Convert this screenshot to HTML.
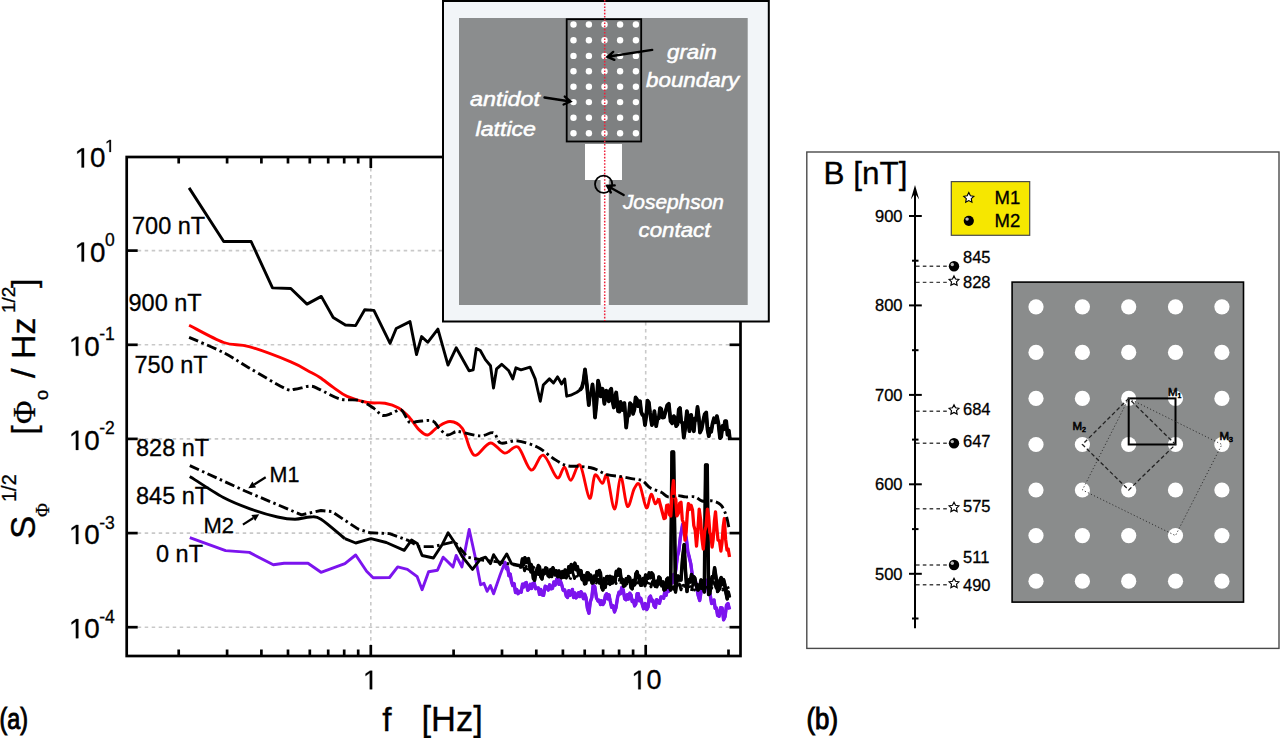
<!DOCTYPE html><html><head><meta charset="utf-8"><style>html,body{margin:0;padding:0;background:#fff;}svg{display:block;}text{font-family:"Liberation Sans",sans-serif;}.sk text{stroke:#000;stroke-width:0.3;}.sk .w text{stroke:#fff;stroke-width:0.5;}.sk .bm text{stroke-width:0.6;}.sk text.bd{stroke-width:1.0;}</style></head><body>
<svg width="1280" height="738" viewBox="0 0 1280 738" class="sk">
<rect width="1280" height="738" fill="#fff"/>
<g stroke="#c9c9c9" stroke-width="1.6" stroke-dasharray="3.5 3.5"><line x1="137.7" y1="627.2" x2="729.5" y2="627.2"/><line x1="137.7" y1="533.1" x2="729.5" y2="533.1"/><line x1="137.7" y1="438.9" x2="729.5" y2="438.9"/><line x1="137.7" y1="344.8" x2="729.5" y2="344.8"/><line x1="137.7" y1="250.6" x2="729.5" y2="250.6"/><line x1="370.8" y1="168.0" x2="370.8" y2="645.0"/><line x1="645.7" y1="168.0" x2="645.7" y2="645.0"/></g>
<path d="M189.8 537.6 L225.6 550.6 L249.4 552.4 L273.3 564.7 L284.1 563.2 L308.0 563.2 L321.0 572.3 L344.9 563.6 L355.7 555.0 L366.6 571.2 L373.1 577.7 L389.5 577.5 L397.7 566.9 L407.4 569.4 L417.2 576.7 L422.1 589.7 L428.6 571.8 L437.5 570.2 L443.2 557.2 L453.0 566.9 L456.2 555.5 L461.9 566.9 L469.2 529.5 L474.9 555.5 L480.6 584.8 L483.9 583.2 L487.1 591.3 L490.4 585.6 L493.6 593.8 L500.1 575.1 L505.0 562.1 L506.3 568.7 L507.6 567.4 L508.9 575.7 L510.2 574.0 L511.5 581.6 L512.8 585.6 L514.1 583.6 L515.5 592.6 L516.8 589.5 L518.1 593.7 L520.0 591.2 L521.2 592.2 L522.5 584.2 L523.7 587.0 L524.9 583.3 L526.3 582.6 L527.7 590.3 L529.1 588.8 L530.3 584.3 L531.6 588.5 L532.8 583.3 L534.2 583.0 L535.7 588.7 L537.1 588.2 L538.3 588.0 L539.5 594.4 L540.8 589.4 L542.0 594.9 L543.6 595.3 L545.2 586.2 L546.8 587.0 L548.2 590.1 L549.7 584.8 L551.1 588.8 L552.5 588.3 L553.9 581.9 L555.2 585.1 L556.6 579.6 L557.8 577.3 L559.0 584.4 L560.3 581.0 L561.5 583.9 L563.1 590.2 L564.7 589.9 L566.3 596.1 L567.5 597.4 L568.8 590.7 L570.0 595.4 L571.2 592.4 L572.4 589.4 L573.6 597.6 L574.9 592.9 L576.1 597.9 L577.3 596.1 L578.5 592.7 L579.8 596.6 L581.0 591.7 L582.2 593.7 L583.4 598.7 L584.7 594.2 L585.9 597.3 L587.4 608.3 L588.9 613.2 L590.3 601.9 L591.8 597.5 L593.2 585.1 L594.8 586.7 L596.4 597.8 L598.0 601.0 L599.2 600.3 L600.5 604.6 L601.7 600.8 L602.9 604.6 L604.1 602.6 L605.4 595.5 L606.6 593.7 L607.8 598.9 L609.0 594.8 L610.2 601.0 L611.6 607.3 L613.1 605.8 L614.5 612.0 L616.0 607.8 L617.6 597.3 L619.0 592.2 L620.4 593.8 L621.8 587.6 L623.2 589.7 L624.7 598.8 L626.1 599.8 L627.3 594.7 L628.5 599.1 L629.8 593.2 L631.0 594.9 L632.2 601.6 L633.4 600.3 L634.6 605.9 L635.8 604.1 L637.1 593.8 L638.3 593.7 L639.5 600.9 L640.8 598.3 L642.0 603.4 L643.6 608.7 L645.2 603.6 L646.8 609.5 L648.0 607.2 L649.3 597.5 L650.5 596.1 L651.7 601.1 L652.9 600.2 L654.1 605.9 L655.4 607.5 L656.7 599.6 L658.0 601.0 L659.5 603.3 L661.0 596.9 L662.5 597.5 L663.7 598.2 L665.0 590.4 L666.2 595.3 L667.4 587.9 L668.7 591.4 L669.9 587.1 L671.1 579.6 L672.3 582.9 L673.5 574.7 L674.7 576.3 L675.9 569.2 L677.4 556.4 L678.8 551.0 L680.3 537.9 L682.6 524.5 L684.8 532.0 L686.3 538.3 L687.8 551.5 L689.3 557.3 L690.8 563.8 L692.3 575.1 L693.8 580.9 L695.2 580.0 L696.7 587.1 L698.2 595.6 L699.7 600.5 L701.2 591.1 L702.7 590.2 L704.2 582.6 L705.7 579.9 L707.2 584.1 L708.7 594.1 L710.1 594.2 L711.6 603.5 L714.0 600.0 L715.2 608.4 L716.4 608.1 L717.6 615.4 L719.1 616.3 L720.6 607.8 L722.1 607.9 L723.6 619.9 L725.1 616.6 L726.5 605.1 L728.0 603.5 L729.5 609.4" fill="none" stroke="#7c14ee" stroke-width="2.9" stroke-linejoin="round"/>
<path d="M505.0 562.1 L506.3 568.7 L507.6 567.4 L508.9 575.7 L510.2 574.0 L511.5 581.6 L512.8 585.6 L514.1 583.6 L515.5 592.6 L516.8 589.5 L518.1 593.7 L520.0 591.2 L521.2 592.2 L522.5 584.2 L523.7 587.0 L524.9 583.3 L526.3 582.6 L527.7 590.3 L529.1 588.8 L530.3 584.3 L531.6 588.5 L532.8 583.3 L534.2 583.0 L535.7 588.7 L537.1 588.2 L538.3 588.0 L539.5 594.4 L540.8 589.4 L542.0 594.9 L543.6 595.3 L545.2 586.2 L546.8 587.0 L548.2 590.1 L549.7 584.8 L551.1 588.8 L552.5 588.3 L553.9 581.9 L555.2 585.1 L556.6 579.6 L557.8 577.3 L559.0 584.4 L560.3 581.0 L561.5 583.9 L563.1 590.2 L564.7 589.9 L566.3 596.1 L567.5 597.4 L568.8 590.7 L570.0 595.4 L571.2 592.4 L572.4 589.4 L573.6 597.6 L574.9 592.9 L576.1 597.9 L577.3 596.1 L578.5 592.7 L579.8 596.6 L581.0 591.7 L582.2 593.7 L583.4 598.7 L584.7 594.2 L585.9 597.3 L587.4 608.3 L588.9 613.2 L590.3 601.9 L591.8 597.5 L593.2 585.1 L594.8 586.7 L596.4 597.8 L598.0 601.0 L599.2 600.3 L600.5 604.6 L601.7 600.8 L602.9 604.6 L604.1 602.6 L605.4 595.5 L606.6 593.7 L607.8 598.9 L609.0 594.8 L610.2 601.0 L611.6 607.3 L613.1 605.8 L614.5 612.0 L616.0 607.8 L617.6 597.3 L619.0 592.2 L620.4 593.8 L621.8 587.6 L623.2 589.7 L624.7 598.8 L626.1 599.8 L627.3 594.7 L628.5 599.1 L629.8 593.2 L631.0 594.9 L632.2 601.6 L633.4 600.3 L634.6 605.9 L635.8 604.1 L637.1 593.8 L638.3 593.7 L639.5 600.9 L640.8 598.3 L642.0 603.4 L643.6 608.7 L645.2 603.6 L646.8 609.5 L648.0 607.2 L649.3 597.5 L650.5 596.1 L651.7 601.1 L652.9 600.2 L654.1 605.9 L655.4 607.5 L656.7 599.6 L658.0 601.0 L659.5 603.3 L661.0 596.9 L662.5 597.5 L663.7 598.2 L665.0 590.4 L666.2 595.3 L667.4 587.9 L668.7 591.4 L669.9 587.1 L671.1 579.6 L672.3 582.9 L673.5 574.7 L674.7 576.3 L675.9 569.2 L677.4 556.4 L678.8 551.0 L680.3 537.9 L682.6 524.5 L684.8 532.0 L686.3 538.3 L687.8 551.5 L689.3 557.3 L690.8 563.8 L692.3 575.1 L693.8 580.9 L695.2 580.0 L696.7 587.1 L698.2 595.6 L699.7 600.5 L701.2 591.1 L702.7 590.2 L704.2 582.6 L705.7 579.9 L707.2 584.1 L708.7 594.1 L710.1 594.2 L711.6 603.5 L714.0 600.0 L715.2 608.4 L716.4 608.1 L717.6 615.4 L719.1 616.3 L720.6 607.8 L722.1 607.9 L723.6 619.9 L725.1 616.6 L726.5 605.1 L728.0 603.5 L729.5 609.4" fill="none" stroke="#7c14ee" stroke-width="3.4" stroke-linejoin="round"/>
<path d="M189.8 476.4 C195.4 479.9 213.1 492.0 223.4 497.5 C233.7 503.0 242.6 506.1 251.6 509.4 C260.6 512.6 270.4 515.4 277.6 517.0 C284.8 518.6 289.6 519.2 295.0 519.2 C300.4 519.2 305.9 517.0 310.2 517.0 C314.5 517.0 315.2 515.6 321.0 519.2 C326.8 522.8 340.9 535.5 344.9 538.7" fill="none" stroke="#000" stroke-width="2.9" stroke-linejoin="round"/>
<path d="M344.9 538.7 L355.7 543.0 L370.9 538.7 L386.3 542.5 L404.2 550.3 L411.5 540.1 L417.2 543.4 L422.1 555.5 L433.4 558.0 L442.4 544.2 L448.1 532.8 L454.6 542.5 L462.7 557.2 L472.5 569.4 L480.6 558.8 L485.5 557.2 L490.4 563.7 L493.6 554.7 L500.1 564.5 L506.7 553.9 L511.5 563.7 L520.0 565.3 L521.2 566.7 L522.4 559.0 L523.6 564.5 L524.9 557.7 L526.1 562.5 L527.3 559.5 L528.5 558.7 L529.8 567.3 L531.0 564.4 L532.2 567.3 L533.4 578.5 L534.6 580.2 L535.8 572.3 L537.1 573.5 L538.3 565.6 L539.5 566.9 L540.8 576.9 L542.0 579.0 L543.2 571.3 L544.4 573.7 L545.6 568.0 L546.8 568.4 L548.1 575.6 L549.3 576.6 L550.5 572.6 L551.7 576.5 L552.9 567.8 L554.1 570.5 L555.3 574.5 L556.5 570.8 L557.8 576.7 L559.0 570.9 L560.2 576.6 L561.4 577.8 L562.6 571.6 L563.9 577.2 L565.1 570.1 L566.3 572.9 L567.5 574.4 L568.8 566.8 L570.0 572.4 L571.2 564.5 L572.5 571.1 L573.7 565.6 L574.9 563.2 L576.1 569.7 L577.4 566.6 L578.6 573.9 L579.8 570.5 L581.0 570.7 L582.2 579.5 L583.4 576.2 L584.6 583.9 L585.8 583.6 L587.1 572.8 L588.3 572.9 L589.5 579.5 L590.8 575.2 L592.0 583.0 L593.2 582.7 L594.4 576.1 L595.6 580.0 L596.9 571.5 L598.1 575.0 L599.3 570.5 L600.5 573.3 L601.7 587.2 L602.9 590.0 L604.1 582.3 L605.3 587.4 L606.6 576.8 L607.8 576.6 L609.0 579.9 L610.2 576.4 L611.5 582.8 L612.7 577.3 L613.9 581.5 L615.1 580.4 L616.3 571.2 L617.6 575.5 L618.8 569.3 L620.0 569.9 L621.2 580.2 L622.5 579.6 L623.7 586.3 L624.9 585.7 L626.1 578.7 L627.3 581.5 L628.5 576.6 L629.7 577.7 L631.0 587.6 L632.2 588.8 L633.4 580.5 L634.7 584.5 L635.9 573.7 L637.1 571.7 L638.3 577.9 L639.5 576.2 L640.8 585.3 L642.0 585.1 L643.2 578.5 L644.4 583.2 L645.6 574.9 L646.8 576.6 L648.0 578.3 L649.2 572.9 L650.5 577.7 L651.7 572.9 L652.9 574.6 L654.2 584.1 L655.4 586.3 L656.5 581.2 L657.7 584.5 L658.9 577.0 L660.0 577.8 L661.3 584.9 L662.7 583.0 L664.0 590.0 L665.3 589.4 L666.7 579.4 L668.0 578.0 L669.3 586.1 L670.6 590.0 L672.0 452.0 L673.6 452.0 L675.5 592.0 L676.8 582.0 L678.0 576.0 L679.5 580.1 L681.0 580.0 L682.5 559.1 L684.1 544.6 L685.5 570.8 L687.0 591.5 L688.1 581.6 L689.3 579.6 L690.4 582.0 L691.5 574.4 L692.6 581.8 L693.7 576.6 L694.8 578.0 L696.0 585.1 L697.1 584.5 L698.2 590.0 L699.6 587.8 L701.0 580.0 L702.6 582.7 L704.3 592.0 L705.6 465.0 L707.2 465.0 L708.6 594.5 L709.8 593.6 L711.0 585.0 L712.2 576.5 L713.4 577.9 L714.6 567.7 L716.1 577.8 L717.6 591.5 L718.8 589.8 L720.0 580.0 L721.2 577.5 L722.4 583.9 L723.6 579.6 L724.8 584.4 L726.0 593.0 L727.2 598.9 L728.3 592.1 L729.5 597.5" fill="none" stroke="#000" stroke-width="2.9" stroke-linejoin="round"/>
<path d="M520.0 565.3 L521.2 566.7 L522.4 559.0 L523.6 564.5 L524.9 557.7 L526.1 562.5 L527.3 559.5 L528.5 558.7 L529.8 567.3 L531.0 564.4 L532.2 567.3 L533.4 578.5 L534.6 580.2 L535.8 572.3 L537.1 573.5 L538.3 565.6 L539.5 566.9 L540.8 576.9 L542.0 579.0 L543.2 571.3 L544.4 573.7 L545.6 568.0 L546.8 568.4 L548.1 575.6 L549.3 576.6 L550.5 572.6 L551.7 576.5 L552.9 567.8 L554.1 570.5 L555.3 574.5 L556.5 570.8 L557.8 576.7 L559.0 570.9 L560.2 576.6 L561.4 577.8 L562.6 571.6 L563.9 577.2 L565.1 570.1 L566.3 572.9 L567.5 574.4 L568.8 566.8 L570.0 572.4 L571.2 564.5 L572.5 571.1 L573.7 565.6 L574.9 563.2 L576.1 569.7 L577.4 566.6 L578.6 573.9 L579.8 570.5 L581.0 570.7 L582.2 579.5 L583.4 576.2 L584.6 583.9 L585.8 583.6 L587.1 572.8 L588.3 572.9 L589.5 579.5 L590.8 575.2 L592.0 583.0 L593.2 582.7 L594.4 576.1 L595.6 580.0 L596.9 571.5 L598.1 575.0 L599.3 570.5 L600.5 573.3 L601.7 587.2 L602.9 590.0 L604.1 582.3 L605.3 587.4 L606.6 576.8 L607.8 576.6 L609.0 579.9 L610.2 576.4 L611.5 582.8 L612.7 577.3 L613.9 581.5 L615.1 580.4 L616.3 571.2 L617.6 575.5 L618.8 569.3 L620.0 569.9 L621.2 580.2 L622.5 579.6 L623.7 586.3 L624.9 585.7 L626.1 578.7 L627.3 581.5 L628.5 576.6 L629.7 577.7 L631.0 587.6 L632.2 588.8 L633.4 580.5 L634.7 584.5 L635.9 573.7 L637.1 571.7 L638.3 577.9 L639.5 576.2 L640.8 585.3 L642.0 585.1 L643.2 578.5 L644.4 583.2 L645.6 574.9 L646.8 576.6 L648.0 578.3 L649.2 572.9 L650.5 577.7 L651.7 572.9 L652.9 574.6 L654.2 584.1 L655.4 586.3 L656.5 581.2 L657.7 584.5 L658.9 577.0 L660.0 577.8 L661.3 584.9 L662.7 583.0 L664.0 590.0 L665.3 589.4 L666.7 579.4 L668.0 578.0 L669.3 586.1 L670.6 590.0 L672.0 452.0 L673.6 452.0 L675.5 592.0 L676.8 582.0 L678.0 576.0 L679.5 580.1 L681.0 580.0 L682.5 559.1 L684.1 544.6 L685.5 570.8 L687.0 591.5 L688.1 581.6 L689.3 579.6 L690.4 582.0 L691.5 574.4 L692.6 581.8 L693.7 576.6 L694.8 578.0 L696.0 585.1 L697.1 584.5 L698.2 590.0 L699.6 587.8 L701.0 580.0 L702.6 582.7 L704.3 592.0 L705.6 465.0 L707.2 465.0 L708.6 594.5 L709.8 593.6 L711.0 585.0 L712.2 576.5 L713.4 577.9 L714.6 567.7 L716.1 577.8 L717.6 591.5 L718.8 589.8 L720.0 580.0 L721.2 577.5 L722.4 583.9 L723.6 579.6 L724.8 584.4 L726.0 593.0 L727.2 598.9 L728.3 592.1 L729.5 597.5" fill="none" stroke="#000" stroke-width="3.5" stroke-linejoin="round"/>
<path d="M189.8 465.6 L245.1 491.0 L301.5 514.8 L321.0 510.5 L331.8 511.6 L357.9 528.9 L370.0 532.8 L389.5 533.6 L407.4 540.1 L418.8 546.6 L433.4 546.6 L454.6 541.7 L467.6 557.2 L483.9 560.4 L500.1 562.1 L520.0 566.1 L521.5 569.4 L523.0 564.0 L524.6 570.9 L526.1 566.4 L527.6 570.5 L529.2 566.9 L530.7 572.2 L532.2 570.5 L533.7 567.3 L535.2 574.4 L536.8 568.4 L538.3 574.6 L539.8 568.8 L541.4 574.2 L542.9 569.9 L544.4 572.9 L545.9 574.9 L547.5 569.1 L549.0 574.6 L550.5 569.3 L552.0 574.7 L553.5 569.7 L555.1 575.3 L556.6 572.9 L558.2 570.7 L559.8 577.3 L561.5 572.5 L563.1 576.3 L564.7 571.2 L566.3 578.2 L568.0 574.0 L569.6 580.2 L571.2 576.6 L572.8 572.7 L574.5 578.5 L576.1 574.0 L577.7 578.5 L579.4 574.2 L581.0 576.6 L582.5 580.0 L584.0 575.2 L585.6 580.8 L587.1 576.1 L588.6 580.1 L590.2 574.8 L591.7 581.3 L593.2 579.0 L594.7 576.9 L596.2 583.0 L597.8 577.6 L599.3 583.4 L600.8 579.6 L602.4 585.1 L603.9 578.3 L605.4 582.7 L606.9 586.5 L608.5 579.2 L610.0 584.7 L611.5 579.6 L613.0 585.2 L614.5 578.6 L616.1 583.5 L617.6 581.5 L619.1 579.5 L620.6 584.3 L622.2 579.1 L623.7 585.6 L625.2 579.4 L626.8 584.1 L628.3 579.0 L629.8 582.7 L631.3 585.5 L632.8 580.2 L634.4 585.3 L635.9 580.7 L637.4 586.0 L639.0 580.1 L640.5 585.6 L642.0 583.9 L643.5 581.1 L645.0 586.1 L646.5 580.9 L648.0 586.0 L649.5 582.1 L651.0 586.9 L652.5 581.5 L654.0 586.4 L655.5 582.1 L657.0 587.0 L658.5 582.7 L660.0 585.1 L661.5 587.9 L663.0 581.4 L664.5 588.1 L666.0 581.6 L667.5 587.6 L669.0 581.8 L670.5 588.2 L672.0 583.8 L673.5 589.3 L675.0 586.0 L676.5 582.3 L678.0 587.8 L679.5 584.1 L681.0 589.8 L682.5 584.1 L684.0 588.8 L685.5 585.1 L687.0 588.5 L688.5 583.8 L690.0 587.0 L691.5 591.1 L693.0 583.2 L694.5 590.1 L696.0 585.7 L697.5 589.9 L699.0 584.1 L700.5 591.3 L702.0 584.7 L703.5 590.1 L705.0 588.0 L706.7 584.6 L708.3 589.7 L710.0 583.4 L711.7 588.2 L713.3 581.6 L715.0 585.0 L716.6 589.3 L718.1 584.1 L719.7 589.0 L721.2 583.5 L722.8 590.0 L724.3 584.5 L725.9 591.7 L727.4 586.2 L729.0 590.0" fill="none" stroke="#000" stroke-width="2.9" stroke-linejoin="round" stroke-dasharray="10 3.5 2.5 3.5"/>
<path d="M189.1 325.2 C194.9 328.1 213.7 338.9 223.7 342.5 C233.7 346.1 237.9 343.4 249.1 346.6 C260.3 349.8 280.6 357.6 290.8 361.8 C301.0 366.0 305.2 369.4 310.1 372.0 C315.0 374.6 316.1 374.9 320.0 377.5 C323.9 380.1 329.1 384.5 333.6 387.6 C338.1 390.8 341.5 393.9 347.1 396.4 C352.7 398.9 361.1 401.4 367.4 402.5 C373.7 403.6 379.8 402.3 385.0 403.2 C390.2 404.1 394.5 405.5 398.6 407.9 C402.7 410.3 406.0 413.8 409.4 417.4 C412.8 421.0 415.8 426.7 418.9 429.6 C421.9 432.5 424.5 435.4 427.7 435.0 C430.9 434.6 434.2 429.1 437.9 426.9 C441.6 424.6 446.0 421.3 450.1 421.5 C454.2 421.7 459.0 423.8 462.3 428.3 C465.6 432.8 467.7 444.1 470.0 448.6 C472.3 453.1 472.9 456.1 476.3 455.2 C479.7 454.3 485.8 443.4 490.5 443.0 C495.2 442.6 500.1 452.4 504.7 453.1 C509.3 453.8 513.5 444.2 517.9 447.0 C522.3 449.8 526.9 468.6 531.1 470.0 C535.3 471.4 539.0 453.9 543.3 455.2 C547.6 456.5 553.6 475.7 557.1 477.7 C560.6 479.7 562.1 466.8 564.4 467.2 C566.7 467.6 568.3 480.6 570.9 480.2 C573.5 479.8 576.9 462.0 580.0 465.0 C583.1 468.0 587.0 496.6 589.5 498.3 C592.0 500.0 592.8 477.7 594.9 475.2 C597.0 472.7 600.4 483.3 602.4 483.4 C604.4 483.5 605.1 471.6 607.1 475.9 C609.1 480.2 612.3 509.0 614.6 509.1 C616.9 509.2 618.6 477.1 620.7 476.6 C622.8 476.2 625.1 504.4 627.4 506.4 C629.6 508.4 632.2 492.4 634.2 488.8 C636.2 485.2 637.6 481.5 639.6 484.7 C641.6 487.9 644.5 506.2 646.4 507.8 C648.3 509.4 649.6 494.9 651.1 494.2 C652.6 493.5 654.0 503.0 655.2 503.7 C656.5 504.4 658.0 499.2 658.6 498.3" fill="none" stroke="#f00" stroke-width="2.9" stroke-linejoin="round"/>
<path d="M658.6 498.3 L664.0 518.6 L665.4 517.9 L666.7 505.3 L668.1 505.0 L669.5 514.8 L670.8 515.9 L672.1 493.5 L673.5 480.7 L674.6 496.7 L675.8 499.4 L676.9 515.9 L678.3 513.5 L679.6 503.4 L681.0 502.3 L682.3 519.7 L683.7 523.5 L685.0 540.0 L686.1 532.6 L687.3 513.5 L688.4 503.7 L689.8 509.2 L691.1 505.2 L692.5 510.0 L693.8 525.6 L695.2 530.3 L696.5 546.0 L697.9 529.6 L699.2 509.1 L700.6 519.7 L701.9 538.5 L703.3 549.0 L704.7 531.0 L706.0 526.7 L707.4 509.1 L708.6 516.1 L709.8 532.4 L710.9 535.1 L712.1 547.0 L713.2 539.2 L714.4 521.3 L715.5 512.0 L716.8 528.0 L718.0 540.0 L719.5 540.9 L720.9 551.0 L722.0 542.8 L723.2 526.8 L724.3 518.6 L725.6 539.2 L727.0 550.0 L728.2 548.9 L729.5 557.0" fill="none" stroke="#f00" stroke-width="3.3" stroke-linejoin="round"/>
<path d="M189.1 337.4 C194.9 339.9 213.7 347.6 223.7 352.7 C233.7 357.8 238.9 362.0 249.1 367.9 C259.3 373.8 277.1 384.7 284.7 388.3 C292.3 391.9 290.6 389.7 294.8 389.3 C299.0 388.9 305.9 386.1 310.1 386.2 C314.3 386.2 315.0 387.5 320.0 389.6 C325.0 391.8 333.8 397.3 340.3 399.1 C346.9 400.9 353.7 398.9 359.3 400.5 C364.9 402.1 370.4 406.1 374.2 408.6 C378.0 411.1 379.4 414.6 382.3 415.4 C385.2 416.2 388.6 414.3 391.8 413.4 C395.0 412.5 398.4 408.5 401.3 410.0 C404.2 411.5 406.7 420.3 409.4 422.2 C412.1 424.1 413.8 421.7 417.6 421.5 C421.5 421.3 428.9 419.7 432.5 420.8 C436.1 421.9 436.7 425.9 439.2 428.3 C441.7 430.7 444.7 434.4 447.4 435.0 C450.1 435.6 453.4 432.2 455.5 431.7 C457.6 431.2 455.9 431.1 460.0 431.8 C464.1 432.5 474.7 435.7 480.3 435.9 C485.9 436.1 490.1 431.6 493.5 432.8 C496.9 434.0 496.8 441.6 500.7 443.0 C504.6 444.4 510.8 440.2 516.9 440.9 C523.0 441.6 531.2 444.1 537.2 447.0 C543.2 449.9 548.2 455.1 553.0 458.2 C557.8 461.3 561.5 464.1 566.0 465.5 C570.5 466.9 575.4 465.9 580.0 466.4 C584.6 466.9 589.1 467.1 593.6 468.5 C598.1 469.9 602.6 473.2 607.1 474.6 C611.6 476.0 616.6 475.9 620.7 476.6 C624.8 477.3 627.9 477.9 631.5 478.6 C635.1 479.3 639.1 479.1 642.3 480.7 C645.5 482.3 647.3 486.2 650.5 488.1 C653.7 490.0 658.4 490.7 661.3 492.2 C664.2 493.7 665.4 496.3 668.1 496.9 C670.8 497.5 674.7 495.6 677.6 495.6 C680.5 495.6 682.8 496.7 685.7 496.9 C688.6 497.1 692.5 496.2 695.2 496.9 C697.9 497.6 699.1 500.3 702.0 501.0 C704.9 501.7 709.6 500.3 712.8 501.0 C715.9 501.7 718.7 502.7 720.9 505.0 C723.1 507.3 724.6 511.2 726.0 515.0 C727.4 518.8 728.5 525.8 729.0 528.0" fill="none" stroke="#000" stroke-width="2.9" stroke-linejoin="round" stroke-dasharray="10 3.5 2.5 3.5"/>
<path d="M189.1 187.9 L223.7 241.5 L251.1 241.5 L272.5 287.9 L290.8 288.5 L307.0 304.1 L321.3 296.4 L333.2 317.5 L345.4 325.0 L355.6 325.6 L364.7 309.8 L373.9 310.4 L390.1 343.3 L396.2 328.5 L410.0 321.6 L416.5 354.5 L421.6 336.6 L427.7 342.3 L437.9 329.1 L448.0 365.1 L456.2 347.8 L469.1 370.8 L473.2 369.8 L476.3 348.5 L480.3 350.5 L485.4 359.6 L490.5 365.7 L493.5 388.1 L496.6 368.8 L501.7 364.3 L508.8 370.8 L512.8 378.9 L515.9 367.8 L521.0 369.8 L530.1 367.2 L535.2 378.9 L540.3 401.3 L543.3 385.0 L549.4 378.9 L553.5 383.0 L557.6 376.9 L561.6 384.0 L564.7 378.9 L566.7 396.2 L570.8 395.2 L576.9 392.2 L580.0 390.0 L581.9 387.5 L583.5 381.2 L585.0 369.4 L586.9 385.0 L588.8 405.0 L590.0 394.5 L591.2 394.4 L592.5 384.4 L593.8 397.1 L595.0 417.5 L596.5 402.9 L598.1 380.6 L599.4 386.3 L600.6 396.3 L602.5 388.8 L604.4 403.8 L606.2 390.6 L607.5 398.0 L608.8 401.2 L610.0 390.5 L611.2 388.8 L612.5 400.9 L613.8 407.5 L615.0 397.3 L616.2 392.5 L618.1 411.2 L619.4 411.6 L620.6 401.9 L622.5 410.0 L624.4 403.1 L626.2 427.5 L627.5 416.0 L628.8 415.7 L630.0 403.1 L631.5 405.0 L633.1 413.8 L634.4 409.5 L635.6 397.5 L636.9 399.4 L638.1 406.2 L640.0 401.2 L641.2 412.0 L642.5 415.0 L643.8 415.4 L645.0 425.0 L646.2 416.4 L647.5 400.6 L648.8 402.3 L650.0 412.5 L651.9 425.0 L653.1 422.1 L654.4 411.2 L656.2 426.2 L657.5 418.0 L658.8 418.4 L660.0 408.1 L661.2 409.0 L662.5 417.5 L664.0 417.3 L665.6 411.2 L667.2 405.4 L668.8 403.8 L670.6 421.2 L672.2 423.3 L673.8 416.2 L675.0 417.8 L676.2 426.2 L677.5 424.4 L678.8 409.5 L680.0 408.1 L681.2 422.0 L682.5 422.9 L683.8 437.5 L685.3 427.6 L686.9 411.2 L688.1 416.8 L689.4 431.2 L691.2 415.0 L692.5 426.5 L693.8 431.2 L695.0 418.3 L696.2 419.7 L697.5 406.9 L698.8 417.4 L700.0 432.5 L701.5 429.3 L703.1 421.2 L704.7 414.2 L706.2 412.5 L707.5 429.3 L708.8 436.2 L710.0 428.8 L711.2 431.8 L712.5 423.8 L714.0 418.3 L715.4 422.3 L716.9 416.2 L718.5 424.0 L720.0 438.1 L721.2 436.9 L722.5 425.9 L723.8 429.2 L725.0 421.2 L726.2 421.2 L727.5 434.7 L728.8 430.5 L730.0 440.0" fill="none" stroke="#000" stroke-width="2.9" stroke-linejoin="round"/>
<path d="M580.0 390.0 L581.9 387.5 L583.5 381.2 L585.0 369.4 L586.9 385.0 L588.8 405.0 L590.0 394.5 L591.2 394.4 L592.5 384.4 L593.8 397.1 L595.0 417.5 L596.5 402.9 L598.1 380.6 L599.4 386.3 L600.6 396.3 L602.5 388.8 L604.4 403.8 L606.2 390.6 L607.5 398.0 L608.8 401.2 L610.0 390.5 L611.2 388.8 L612.5 400.9 L613.8 407.5 L615.0 397.3 L616.2 392.5 L618.1 411.2 L619.4 411.6 L620.6 401.9 L622.5 410.0 L624.4 403.1 L626.2 427.5 L627.5 416.0 L628.8 415.7 L630.0 403.1 L631.5 405.0 L633.1 413.8 L634.4 409.5 L635.6 397.5 L636.9 399.4 L638.1 406.2 L640.0 401.2 L641.2 412.0 L642.5 415.0 L643.8 415.4 L645.0 425.0 L646.2 416.4 L647.5 400.6 L648.8 402.3 L650.0 412.5 L651.9 425.0 L653.1 422.1 L654.4 411.2 L656.2 426.2 L657.5 418.0 L658.8 418.4 L660.0 408.1 L661.2 409.0 L662.5 417.5 L664.0 417.3 L665.6 411.2 L667.2 405.4 L668.8 403.8 L670.6 421.2 L672.2 423.3 L673.8 416.2 L675.0 417.8 L676.2 426.2 L677.5 424.4 L678.8 409.5 L680.0 408.1 L681.2 422.0 L682.5 422.9 L683.8 437.5 L685.3 427.6 L686.9 411.2 L688.1 416.8 L689.4 431.2 L691.2 415.0 L692.5 426.5 L693.8 431.2 L695.0 418.3 L696.2 419.7 L697.5 406.9 L698.8 417.4 L700.0 432.5 L701.5 429.3 L703.1 421.2 L704.7 414.2 L706.2 412.5 L707.5 429.3 L708.8 436.2 L710.0 428.8 L711.2 431.8 L712.5 423.8 L714.0 418.3 L715.4 422.3 L716.9 416.2 L718.5 424.0 L720.0 438.1 L721.2 436.9 L722.5 425.9 L723.8 429.2 L725.0 421.2 L726.2 421.2 L727.5 434.7 L728.8 430.5 L730.0 440.0" fill="none" stroke="#000" stroke-width="3.8" stroke-linejoin="round"/>
<g stroke="#000" stroke-width="2.7" stroke-linecap="butt"><rect x="126.7" y="157.0" width="613.8" height="499.0" fill="none"/><line x1="126.7" y1="627.2" x2="137.7" y2="627.2"/><line x1="740.5" y1="627.2" x2="729.5" y2="627.2"/><line x1="126.7" y1="533.1" x2="137.7" y2="533.1"/><line x1="740.5" y1="533.1" x2="729.5" y2="533.1"/><line x1="126.7" y1="438.9" x2="137.7" y2="438.9"/><line x1="740.5" y1="438.9" x2="729.5" y2="438.9"/><line x1="126.7" y1="344.8" x2="137.7" y2="344.8"/><line x1="740.5" y1="344.8" x2="729.5" y2="344.8"/><line x1="126.7" y1="250.6" x2="137.7" y2="250.6"/><line x1="740.5" y1="250.6" x2="729.5" y2="250.6"/><line x1="178.7" y1="656.0" x2="178.7" y2="649.5"/><line x1="178.7" y1="157.0" x2="178.7" y2="163.5"/><line x1="227.1" y1="656.0" x2="227.1" y2="649.5"/><line x1="227.1" y1="157.0" x2="227.1" y2="163.5"/><line x1="261.4" y1="656.0" x2="261.4" y2="649.5"/><line x1="261.4" y1="157.0" x2="261.4" y2="163.5"/><line x1="288.0" y1="656.0" x2="288.0" y2="649.5"/><line x1="288.0" y1="157.0" x2="288.0" y2="163.5"/><line x1="309.8" y1="656.0" x2="309.8" y2="649.5"/><line x1="309.8" y1="157.0" x2="309.8" y2="163.5"/><line x1="328.2" y1="656.0" x2="328.2" y2="649.5"/><line x1="328.2" y1="157.0" x2="328.2" y2="163.5"/><line x1="344.2" y1="656.0" x2="344.2" y2="649.5"/><line x1="344.2" y1="157.0" x2="344.2" y2="163.5"/><line x1="358.2" y1="656.0" x2="358.2" y2="649.5"/><line x1="358.2" y1="157.0" x2="358.2" y2="163.5"/><line x1="453.6" y1="656.0" x2="453.6" y2="649.5"/><line x1="453.6" y1="157.0" x2="453.6" y2="163.5"/><line x1="502.0" y1="656.0" x2="502.0" y2="649.5"/><line x1="502.0" y1="157.0" x2="502.0" y2="163.5"/><line x1="536.3" y1="656.0" x2="536.3" y2="649.5"/><line x1="536.3" y1="157.0" x2="536.3" y2="163.5"/><line x1="562.9" y1="656.0" x2="562.9" y2="649.5"/><line x1="562.9" y1="157.0" x2="562.9" y2="163.5"/><line x1="584.7" y1="656.0" x2="584.7" y2="649.5"/><line x1="584.7" y1="157.0" x2="584.7" y2="163.5"/><line x1="603.1" y1="656.0" x2="603.1" y2="649.5"/><line x1="603.1" y1="157.0" x2="603.1" y2="163.5"/><line x1="619.1" y1="656.0" x2="619.1" y2="649.5"/><line x1="619.1" y1="157.0" x2="619.1" y2="163.5"/><line x1="633.1" y1="656.0" x2="633.1" y2="649.5"/><line x1="633.1" y1="157.0" x2="633.1" y2="163.5"/><line x1="728.5" y1="656.0" x2="728.5" y2="649.5"/><line x1="728.5" y1="157.0" x2="728.5" y2="163.5"/><line x1="370.8" y1="656.0" x2="370.8" y2="645.0"/><line x1="370.8" y1="157.0" x2="370.8" y2="168.0"/><line x1="645.7" y1="656.0" x2="645.7" y2="645.0"/><line x1="645.7" y1="157.0" x2="645.7" y2="168.0"/></g>
<g fill="#000"><path transform="translate(74.59 167.45) scale(0.01357 -0.01357)" d="M515 0 L515 1237 L197 1010 L197 1180 L530 1409 L696 1409 L696 0 Z" stroke="#000" stroke-width="22.1"/><text x="90.0" y="167.4" font-size="27.8">0</text><path transform="translate(105.00 151.95) scale(0.00854 -0.00854)" d="M515 0 L515 1237 L197 1010 L197 1180 L530 1409 L696 1409 L696 0 Z" stroke="#000" stroke-width="35.1"/><path transform="translate(74.59 261.60) scale(0.01357 -0.01357)" d="M515 0 L515 1237 L197 1010 L197 1180 L530 1409 L696 1409 L696 0 Z" stroke="#000" stroke-width="22.1"/><text x="90.0" y="261.6" font-size="27.8">0</text><text x="105.0" y="246.1" font-size="17.5">0</text><path transform="translate(68.89 355.75) scale(0.01357 -0.01357)" d="M515 0 L515 1237 L197 1010 L197 1180 L530 1409 L696 1409 L696 0 Z" stroke="#000" stroke-width="22.1"/><text x="84.3" y="355.8" font-size="27.8">0</text><text x="99.3" y="340.2" font-size="17.5">-1</text><path transform="translate(68.89 449.90) scale(0.01357 -0.01357)" d="M515 0 L515 1237 L197 1010 L197 1180 L530 1409 L696 1409 L696 0 Z" stroke="#000" stroke-width="22.1"/><text x="84.3" y="449.9" font-size="27.8">0</text><text x="99.3" y="434.4" font-size="17.5">-2</text><path transform="translate(68.89 544.05) scale(0.01357 -0.01357)" d="M515 0 L515 1237 L197 1010 L197 1180 L530 1409 L696 1409 L696 0 Z" stroke="#000" stroke-width="22.1"/><text x="84.3" y="544.1" font-size="27.8">0</text><text x="99.3" y="528.6" font-size="17.5">-3</text><path transform="translate(68.89 638.20) scale(0.01357 -0.01357)" d="M515 0 L515 1237 L197 1010 L197 1180 L530 1409 L696 1409 L696 0 Z" stroke="#000" stroke-width="22.1"/><text x="84.3" y="638.2" font-size="27.8">0</text><text x="99.3" y="622.7" font-size="17.5">-4</text><path transform="translate(362.99 689.30) scale(0.01318 -0.01318)" d="M515 0 L515 1237 L197 1010 L197 1180 L530 1409 L696 1409 L696 0 Z" stroke="#000" stroke-width="22.8"/><path transform="translate(631.49 689.30) scale(0.01318 -0.01318)" d="M515 0 L515 1237 L197 1010 L197 1180 L530 1409 L696 1409 L696 0 Z" stroke="#000" stroke-width="22.8"/><text x="646.5" y="689.3" font-size="27">0</text><text x="382.2" y="730.9" font-size="33.5">f</text><text x="421.5" y="730.9" font-size="34.5">[Hz]</text><text x="132" y="234.4" font-size="23.5">700 nT</text><text x="128.5" y="311.2" font-size="23.5">900 nT</text><text x="134.5" y="372.9" font-size="23.5">750 nT</text><text x="136" y="456.4" font-size="23.5">828 nT</text><text x="136" y="504.2" font-size="23.5">845 nT</text><text x="156" y="562.2" font-size="23.5">0 nT</text><text x="269.5" y="482" font-size="21.5">M1</text><text x="203.5" y="533" font-size="22">M2</text></g>
<line x1="265.7" y1="477.3" x2="254.2" y2="484.5" stroke="#000" stroke-width="2.2"/><path d="M248.3 488.2 L252.4 481.5 L256.1 487.4 Z" fill="#000"/>
<line x1="242.9" y1="524.6" x2="253.3" y2="518.0" stroke="#000" stroke-width="2.2"/><path d="M259.2 514.2 L255.2 520.9 L251.4 515.0 Z" fill="#000"/>
<g transform="translate(34.7 538) rotate(-90)"><text x="-1" y="0" font-size="35">S</text><text x="21" y="14" font-size="19" style="font-family:&apos;Liberation Serif&apos;">&#934;</text><text x="36" y="-18.3" font-size="20">1/2</text><text x="103.3" y="0" font-size="34">[</text><text x="114" y="0" font-size="32" style="font-family:&apos;Liberation Serif&apos;">&#934;</text><text x="138" y="13.5" font-size="18">o</text><text x="160" y="0" font-size="34">/ Hz</text><text x="225" y="-19.7" font-size="19">1/2</text><text x="250" y="0" font-size="34">]</text></g>
<text class="bd" x="-0.5" y="728.5" font-size="29.3" textLength="28.5" lengthAdjust="spacingAndGlyphs" stroke="#000" stroke-width="0.4">(a)</text>
<text class="bd" x="806.5" y="728.5" font-size="29.3" textLength="31.5" lengthAdjust="spacingAndGlyphs" stroke="#000" stroke-width="0.4">(b)</text>
<rect x="443" y="1" width="325.8" height="320.5" fill="#f2f5f8" stroke="#000" stroke-width="2"/><rect x="459" y="18" width="288.7" height="287" fill="#8b8d8e"/><rect x="566.7" y="19.2" width="74.5" height="122.3" fill="#7e8081" stroke="#000" stroke-width="1.8"/><g fill="#fff"><circle cx="573.5" cy="24.5" r="3.2"/><circle cx="573.5" cy="40.3" r="3.2"/><circle cx="573.5" cy="55.9" r="3.2"/><circle cx="573.5" cy="71.3" r="3.2"/><circle cx="573.5" cy="86.7" r="3.2"/><circle cx="573.5" cy="102.1" r="3.2"/><circle cx="573.5" cy="117.7" r="3.2"/><circle cx="573.5" cy="133.3" r="3.2"/><circle cx="588.9" cy="24.5" r="3.2"/><circle cx="588.9" cy="40.3" r="3.2"/><circle cx="588.9" cy="55.9" r="3.2"/><circle cx="588.9" cy="71.3" r="3.2"/><circle cx="588.9" cy="86.7" r="3.2"/><circle cx="588.9" cy="102.1" r="3.2"/><circle cx="588.9" cy="117.7" r="3.2"/><circle cx="588.9" cy="133.3" r="3.2"/><circle cx="604.5" cy="24.5" r="3.2"/><circle cx="604.5" cy="40.3" r="3.2"/><circle cx="604.5" cy="55.9" r="3.2"/><circle cx="604.5" cy="71.3" r="3.2"/><circle cx="604.5" cy="86.7" r="3.2"/><circle cx="604.5" cy="102.1" r="3.2"/><circle cx="604.5" cy="117.7" r="3.2"/><circle cx="604.5" cy="133.3" r="3.2"/><circle cx="620.1" cy="24.5" r="3.2"/><circle cx="620.1" cy="40.3" r="3.2"/><circle cx="620.1" cy="55.9" r="3.2"/><circle cx="620.1" cy="71.3" r="3.2"/><circle cx="620.1" cy="86.7" r="3.2"/><circle cx="620.1" cy="102.1" r="3.2"/><circle cx="620.1" cy="117.7" r="3.2"/><circle cx="620.1" cy="133.3" r="3.2"/><circle cx="635.9" cy="24.5" r="3.2"/><circle cx="635.9" cy="40.3" r="3.2"/><circle cx="635.9" cy="55.9" r="3.2"/><circle cx="635.9" cy="71.3" r="3.2"/><circle cx="635.9" cy="86.7" r="3.2"/><circle cx="635.9" cy="102.1" r="3.2"/><circle cx="635.9" cy="117.7" r="3.2"/><circle cx="635.9" cy="133.3" r="3.2"/></g><rect x="585" y="144" width="37" height="36" fill="#fff"/><rect x="600.6" y="180" width="8.2" height="125" fill="#fff"/><line x1="604.7" y1="0" x2="604.7" y2="321" stroke="#f0203a" stroke-width="1.5" stroke-dasharray="1.6 1.6"/><circle cx="603.6" cy="184.2" r="8.6" fill="none" stroke="#000" stroke-width="1.8"/>
<path d="M544.5 97.5 L570.5 101.5 M563.6 104.5 L570.5 101.5 L564.8 96.6" fill="none" stroke="#000" stroke-width="2.4" stroke-linecap="round" stroke-linejoin="miter"/>
<path d="M652.2 49.9 L607.5 56.8 M613.2 51.9 L607.5 56.8 L614.4 59.8" fill="none" stroke="#000" stroke-width="2.4" stroke-linecap="round" stroke-linejoin="miter"/>
<path d="M623.7 195.0 L607.2 185.8 M614.7 185.4 L607.2 185.8 L610.8 192.4" fill="none" stroke="#000" stroke-width="2.4" stroke-linecap="round" stroke-linejoin="miter"/>
<g class="w" fill="#fff" font-style="italic" font-size="20"><text x="470" y="106" textLength="70" lengthAdjust="spacingAndGlyphs">antidot</text><text x="475.5" y="135.5" textLength="60.5" lengthAdjust="spacingAndGlyphs">lattice</text><text x="667" y="59" textLength="49.6" lengthAdjust="spacingAndGlyphs">grain</text><text x="646" y="87" textLength="93.3" lengthAdjust="spacingAndGlyphs">boundary</text><text x="622.9" y="208.6" textLength="101" lengthAdjust="spacingAndGlyphs">Josephson</text><text x="638.6" y="237" textLength="71.8" lengthAdjust="spacingAndGlyphs">contact</text></g>
<rect x="806.8" y="152" width="472.2" height="496.4" fill="#fff" stroke="#4a4a4a" stroke-width="1.4"/><text x="823.5" y="183.6" font-size="31.5" stroke="#000" stroke-width="0.3">B [nT]</text><line x1="915" y1="190" x2="915" y2="628.3" stroke="#000" stroke-width="2"/><path d="M915 185 L910.8 199.5 L915 193.5 L919.2 199.5 Z" fill="#000"/><line x1="909" y1="216.0" x2="921.8" y2="216.0" stroke="#000" stroke-width="2"/><text x="902.5" y="221.8" font-size="16.5" text-anchor="end">900</text><line x1="909" y1="305.4" x2="921.8" y2="305.4" stroke="#000" stroke-width="2"/><text x="902.5" y="311.2" font-size="16.5" text-anchor="end">800</text><line x1="909" y1="394.9" x2="921.8" y2="394.9" stroke="#000" stroke-width="2"/><text x="902.5" y="400.7" font-size="16.5" text-anchor="end">700</text><line x1="909" y1="484.3" x2="921.8" y2="484.3" stroke="#000" stroke-width="2"/><text x="902.5" y="490.1" font-size="16.5" text-anchor="end">600</text><line x1="909" y1="573.8" x2="921.8" y2="573.8" stroke="#000" stroke-width="2"/><text x="902.5" y="579.6" font-size="16.5" text-anchor="end">500</text><line x1="912" y1="260.7" x2="918.5" y2="260.7" stroke="#000" stroke-width="2"/><line x1="912" y1="350.2" x2="918.5" y2="350.2" stroke="#000" stroke-width="2"/><line x1="912" y1="439.6" x2="918.5" y2="439.6" stroke="#000" stroke-width="2"/><line x1="912" y1="529.1" x2="918.5" y2="529.1" stroke="#000" stroke-width="2"/><line x1="912" y1="618.5" x2="918.5" y2="618.5" stroke="#000" stroke-width="2"/>
<line x1="916" y1="266.2" x2="949" y2="266.2" stroke="#444" stroke-width="1.4" stroke-dasharray="3.6 3.2"/><circle cx="954.0" cy="266.2" r="5.2" fill="#000"/><circle cx="952.3" cy="264.5" r="1.7" fill="#bbb"/><text x="963" y="262.7" font-size="16.5">845</text><line x1="916" y1="282.4" x2="949" y2="282.4" stroke="#444" stroke-width="1.4" stroke-dasharray="3.6 3.2"/><path d="M954.0 275.9 L955.5 279.0 L958.9 279.5 L956.5 281.9 L957.1 285.3 L954.0 283.7 L950.9 285.3 L951.5 281.9 L949.1 279.5 L952.5 279.0 Z" fill="#fff" stroke="#000" stroke-width="1.15" stroke-linejoin="miter"/><text x="963" y="287.6" font-size="16.5">828</text><line x1="916" y1="411.2" x2="949" y2="411.2" stroke="#444" stroke-width="1.4" stroke-dasharray="3.6 3.2"/><path d="M954.0 404.7 L955.5 407.8 L958.9 408.3 L956.5 410.7 L957.1 414.1 L954.0 412.5 L950.9 414.1 L951.5 410.7 L949.1 408.3 L952.5 407.8 Z" fill="#fff" stroke="#000" stroke-width="1.15" stroke-linejoin="miter"/><text x="963" y="415.1" font-size="16.5">684</text><line x1="916" y1="443.3" x2="949" y2="443.3" stroke="#444" stroke-width="1.4" stroke-dasharray="3.6 3.2"/><circle cx="954.0" cy="443.3" r="5.2" fill="#000"/><circle cx="952.3" cy="441.6" r="1.7" fill="#bbb"/><text x="963" y="446.9" font-size="16.5">647</text><line x1="916" y1="508.7" x2="949" y2="508.7" stroke="#444" stroke-width="1.4" stroke-dasharray="3.6 3.2"/><path d="M954.0 502.2 L955.5 505.3 L958.9 505.8 L956.5 508.2 L957.1 511.6 L954.0 510.0 L950.9 511.6 L951.5 508.2 L949.1 505.8 L952.5 505.3 Z" fill="#fff" stroke="#000" stroke-width="1.15" stroke-linejoin="miter"/><text x="963" y="512.0" font-size="16.5">575</text><line x1="916" y1="565.0" x2="949" y2="565.0" stroke="#444" stroke-width="1.4" stroke-dasharray="3.6 3.2"/><circle cx="954.0" cy="565.0" r="5.2" fill="#000"/><circle cx="952.3" cy="563.3" r="1.7" fill="#bbb"/><text x="963" y="562.7" font-size="16.5">511</text><line x1="916" y1="584.7" x2="949" y2="584.7" stroke="#444" stroke-width="1.4" stroke-dasharray="3.6 3.2"/><path d="M954.0 578.2 L955.5 581.3 L958.9 581.8 L956.5 584.2 L957.1 587.7 L954.0 586.0 L950.9 587.7 L951.5 584.2 L949.1 581.8 L952.5 581.3 Z" fill="#fff" stroke="#000" stroke-width="1.15" stroke-linejoin="miter"/><text x="963" y="591.0" font-size="16.5">490</text>
<rect x="951.3" y="181.6" width="78.4" height="53.7" fill="#f6e700" stroke="#4a4a4a" stroke-width="1.2"/>
<path d="M968.8 192.6 L970.4 195.8 L973.8 196.3 L971.3 198.7 L971.9 202.2 L968.8 200.6 L965.7 202.2 L966.3 198.7 L963.8 196.3 L967.2 195.8 Z" fill="#fff" stroke="#000" stroke-width="1.15" stroke-linejoin="miter"/>
<circle cx="968.8" cy="220.8" r="5.1" fill="#000"/><circle cx="967.1" cy="219.1" r="1.7" fill="#bbb"/>
<text x="994.5" y="204" font-size="18.5">M1</text><text x="994.5" y="227.4" font-size="18.5">M2</text>
<rect x="1012.1" y="282.1" width="231.4" height="320" fill="#8a8c8c" stroke="#000" stroke-width="1.6"/><g fill="#fff"><circle cx="1036.0" cy="306.8" r="7.6"/><circle cx="1036.0" cy="352.4" r="7.6"/><circle cx="1036.0" cy="398.4" r="7.6"/><circle cx="1036.0" cy="444.5" r="7.6"/><circle cx="1036.0" cy="490.0" r="7.6"/><circle cx="1036.0" cy="535.6" r="7.6"/><circle cx="1036.0" cy="581.2" r="7.6"/><circle cx="1082.4" cy="306.8" r="7.6"/><circle cx="1082.4" cy="352.4" r="7.6"/><circle cx="1082.4" cy="398.4" r="7.6"/><circle cx="1082.4" cy="444.5" r="7.6"/><circle cx="1082.4" cy="490.0" r="7.6"/><circle cx="1082.4" cy="535.6" r="7.6"/><circle cx="1082.4" cy="581.2" r="7.6"/><circle cx="1128.7" cy="306.8" r="7.6"/><circle cx="1128.7" cy="352.4" r="7.6"/><circle cx="1128.7" cy="398.4" r="7.6"/><circle cx="1128.7" cy="444.5" r="7.6"/><circle cx="1128.7" cy="490.0" r="7.6"/><circle cx="1128.7" cy="535.6" r="7.6"/><circle cx="1128.7" cy="581.2" r="7.6"/><circle cx="1175.5" cy="306.8" r="7.6"/><circle cx="1175.5" cy="352.4" r="7.6"/><circle cx="1175.5" cy="398.4" r="7.6"/><circle cx="1175.5" cy="444.5" r="7.6"/><circle cx="1175.5" cy="490.0" r="7.6"/><circle cx="1175.5" cy="535.6" r="7.6"/><circle cx="1175.5" cy="581.2" r="7.6"/><circle cx="1221.9" cy="306.8" r="7.6"/><circle cx="1221.9" cy="352.4" r="7.6"/><circle cx="1221.9" cy="398.4" r="7.6"/><circle cx="1221.9" cy="444.5" r="7.6"/><circle cx="1221.9" cy="490.0" r="7.6"/><circle cx="1221.9" cy="535.6" r="7.6"/><circle cx="1221.9" cy="581.2" r="7.6"/></g><rect x="1128.7" y="398.4" width="46.8" height="46.1" fill="none" stroke="#000" stroke-width="2"/><path d="M1128.7 398.4 L1082.4 444.5 L1128.7 490.0 L1175.5 444.5 Z" fill="none" stroke="#222" stroke-width="1.3" stroke-dasharray="4 2.5"/><path d="M1128.7 398.4 L1221.9 444.5 L1175.5 535.6 L1082.4 490.0 Z" fill="none" stroke="#333" stroke-width="1" stroke-dasharray="1.2 2.2"/><g class="bm" font-size="11.5" fill="#111"><text x="1168" y="396">M<tspan font-size="7" dy="2">1</tspan></text><text x="1072.5" y="430">M<tspan font-size="7" dy="2">2</tspan></text><text x="1219.5" y="440.4">M<tspan font-size="7" dy="2">3</tspan></text></g>
</svg></body></html>
